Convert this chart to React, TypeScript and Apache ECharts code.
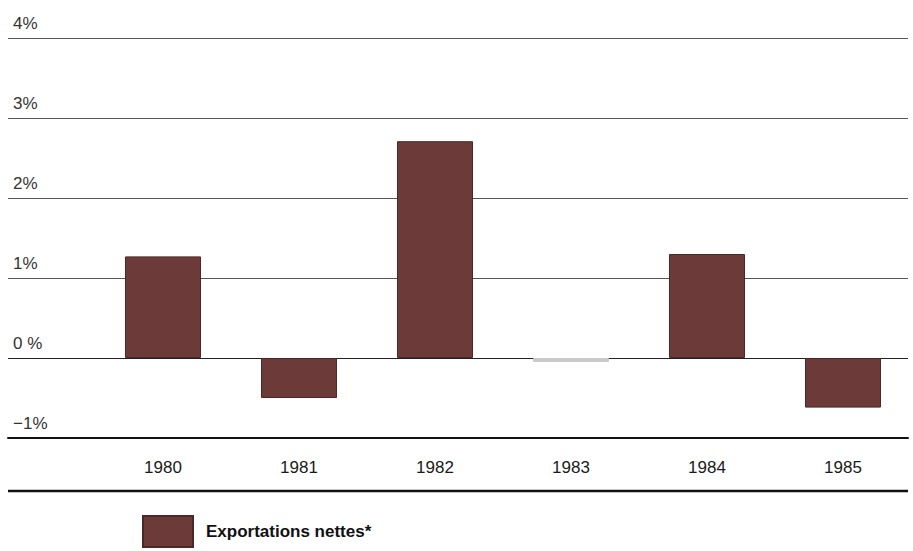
import React, { useEffect, useRef } from "react";
import * as echarts from "echarts";

const years = ["1980", "1981", "1982", "1983", "1984", "1985"];
const netExports = [1.27, -0.5, 2.71, -0.05, 1.3, -0.62];
const yTickValues = [-1, 0, 1, 2, 3, 4];
const yTickLabels = ["\u22121%", "0 %", "1%", "2%", "3%", "4%"];
const seriesName = "Exportations nettes*";

const BAR = "#6c3b39";
const FONT = "'Liberation Sans', Arial, sans-serif";

export default function App() {
  const ref = useRef<HTMLDivElement>(null);
  useEffect(() => {
    if (!ref.current) return;
    const chart = echarts.init(ref.current, undefined, { renderer: "svg" });
    const labelFor = (v: number) => {
      const i = yTickValues.indexOf(Math.round(v));
      return i >= 0 ? yTickLabels[i] : "";
    };
    chart.setOption({
      animation: false,
      backgroundColor: "#ffffff",
      grid: [
        { left: 8, right: 5, top: 38, bottom: 113, containLabel: false },
        { left: 95, right: 2, top: 38, bottom: 113, containLabel: false },
      ],
      xAxis: [
        {
          gridIndex: 0,
          type: "value",
          min: 0,
          max: 1,
          axisLine: { show: true, onZero: false, lineStyle: { color: "#111", width: 2 } },
          axisTick: { show: false },
          axisLabel: { show: false },
          splitLine: { show: false },
        },
        {
          gridIndex: 1,
          type: "category",
          data: years,
          axisLine: { show: false },
          axisTick: { show: false },
          axisLabel: {
            margin: 21,
            fontSize: 17,
            color: "#1a1a1a",
            fontFamily: FONT,
          },
        },
      ],
      yAxis: [
        {
          gridIndex: 0,
          type: "value",
          min: -1,
          max: 4,
          interval: 1,
          axisLine: { show: false },
          axisTick: { show: false },
          axisLabel: {
            inside: true,
            margin: 5,
            verticalAlign: "bottom",
            padding: [0, 0, 6, 0],
            fontSize: 17,
            color: "#333",
            fontFamily: FONT,
            formatter: (v: number) => labelFor(v),
          },
          splitLine: {
            show: true,
            lineStyle: {
              color: ["#111", "#222", "#555", "#555", "#555", "#555"],
              width: 1.2,
            },
          },
        },
        {
          gridIndex: 1,
          type: "value",
          min: -1,
          max: 4,
          interval: 1,
          show: false,
          splitLine: { show: false },
        },
      ],
      legend: {
        left: 142,
        top: 515,
        padding: 0,
        itemWidth: 50,
        itemHeight: 31,
        icon: "rect",
        data: [{ name: seriesName, itemStyle: { color: BAR } }],
        textStyle: {
          fontFamily: FONT,
          fontWeight: "bold",
          fontSize: 17,
          color: "#111",
          padding: [10, 0, 0, 8],
        },
      },
      graphic: [
        {
          type: "line",
          shape: { x1: 8, y1: 491, x2: 908, y2: 491 },
          style: { stroke: "#111", lineWidth: 2.5 },
        },
      ],
      series: [
        {
          name: seriesName,
          type: "bar",
          xAxisIndex: 1,
          yAxisIndex: 1,
          barWidth: 76,
          data: netExports.map((v, i) =>
            i === 3
              ? { value: v, itemStyle: { color: "#c9c9c9", borderColor: "#c9c9c9" } }
              : v
          ),
          itemStyle: { color: BAR, borderColor: "#4a2827", borderWidth: 1 },
        },
      ],
    });
    return () => chart.dispose();
  }, []);
  return (
    <div
      ref={ref}
      style={{ position: "fixed", left: 0, top: 0, width: 913, height: 551 }}
    />
  );
}
